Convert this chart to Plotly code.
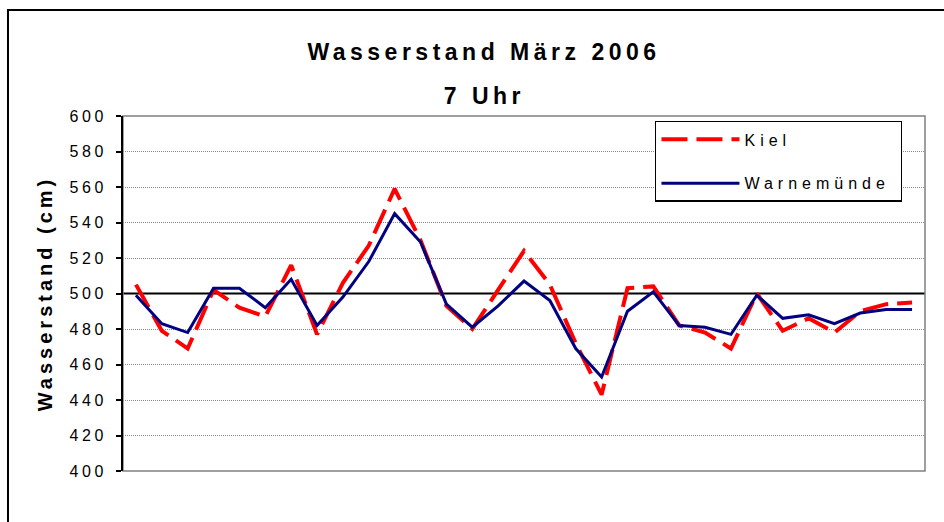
import plotly.graph_objects as go

# ---- data ----
days = list(range(1, 32))
kiel = [505, 479, 469, 502, 492, 487, 516, 477, 506, 527, 559, 530, 493, 480, 502, 524,
        505, 472, 443, 503, 504, 482, 478, 469, 500, 479, 486, 478, 490, 494, 495]
warnemuende = [499, 483, 478, 503, 503, 492, 508, 482, 498, 518, 545, 529, 494, 481, 493, 507,
               496, 469, 453, 490, 501, 482, 481, 477, 499, 486, 488, 483, 489, 491, 491]
reference_level = 500
y_ticks = list(range(400, 601, 20))
grid_ticks = [v for v in y_ticks if v != reference_level]

title_line1 = "Wasserstand März 2006"
title_line2 = "7 Uhr"
y_title = "Wasserstand (cm)"

FONT = "Liberation Sans, Arial, sans-serif"

fig = go.Figure()
fig.add_trace(go.Scatter(
    x=days, y=kiel, mode="lines", name="Kiel", legendgroup="k",
    line=dict(color="#FF0000", width=4, dash="26px,9px"),
))
fig.add_trace(go.Scatter(
    x=days, y=warnemuende, mode="lines", name="Warnemünde", legendgroup="w",
    line=dict(color="#000080", width=3),
))

fig.add_hline(y=reference_level, line=dict(color="black", width=2), layer="below")

# plot-area border (grey) and outer chart border (black)
fig.add_shape(type="rect", xref="paper", yref="paper", x0=0, y0=0, x1=1, y1=1,
              line=dict(color="#808080", width=1.5), layer="below")
fig.add_shape(type="path", xref="paper", yref="paper",
              path="M -0.1434,-0.3 L -0.1434,1.2986 L 1.2,1.2986",
              line=dict(color="black", width=2))

fig.add_annotation(text=f"<b>{title_line2}</b>", xref="paper", yref="paper",
                   x=0.4504, y=1.056, showarrow=False, xanchor="center", yanchor="middle",
                   font=dict(family=FONT, size=23, color="black"))

fig.update_layout(
    width=944, height=522,
    margin=dict(l=123, r=19, t=116, b=51),
    paper_bgcolor="white", plot_bgcolor="white",
    font=dict(family=FONT, size=14, color="black"),
    title=dict(text=f"<b>{title_line1}</b>", x=0.5127, xanchor="center",
               y=0.9, yanchor="middle", yref="container",
               font=dict(family=FONT, size=23, color="black")),
    showlegend=True,
    legend=dict(x=0.6633, y=0.986, xanchor="left", yanchor="top",
                bgcolor="white", bordercolor="black", borderwidth=1.5,
                font=dict(family=FONT, size=16, color="black"),
                tracegroupgap=20, itemwidth=78),
    xaxis=dict(range=[0.5, 31.5], showticklabels=False, showgrid=False, zeroline=False,
               ticks="", showline=False, fixedrange=True),
    yaxis=dict(range=[400, 600], tickvals=y_ticks, ticks="outside", ticklen=5,
               tickcolor="black", tickwidth=1.5, showline=True, linecolor="black",
               linewidth=2, showgrid=False, zeroline=False, ticklabelstandoff=6,
               minor=dict(tickvals=grid_ticks, ticks="", showgrid=True,
                          gridcolor="#8a8a8a", griddash="1px,1px", gridwidth=1),
               tickfont=dict(family=FONT, size=16),
               title=dict(text=f"<b>{y_title}</b>", standoff=22,
                          font=dict(family=FONT, size=20))),
)

post = """
document.body.style.margin = '0';
var gd = document.getElementById('{plot_id}');
function spacing(){
  function ls(sel, v){ gd.querySelectorAll(sel).forEach(function(e){ e.style.letterSpacing = v; }); }
  ls('.gtitle', '4.5px');
  ls('.annotation-text', '4.5px');
  ls('.ytitle', '4px');
  ls('.ytick text', '3.5px');
  ls('.legendtext', '5px');
  var sb = gd.querySelector('.legend .scrollbox');
  if (sb) { sb.removeAttribute('clip-path'); }
  var bg = gd.querySelector('.legend .bg');
  if (bg) { bg.setAttribute('width', 246); }
}
spacing();
gd.on('plotly_afterplot', spacing);
"""

fig.write_html("out.html", post_script=post, config={"displayModeBar": False})
